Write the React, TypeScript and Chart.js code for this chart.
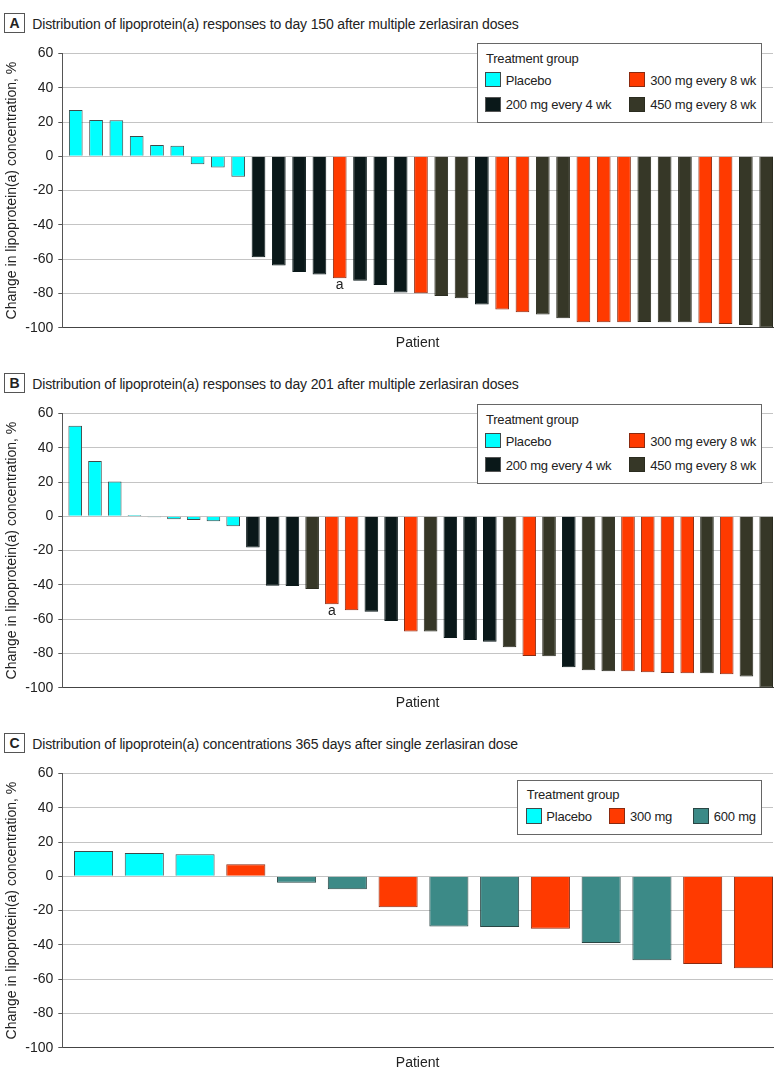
import React, { useEffect, useRef } from 'react';
import { Chart, registerables } from 'chart.js';

Chart.register(...registerables);

const FONT = '"Liberation Sans", Arial, sans-serif';

// ---------- Data ----------
// Panel A: day 150, multiple doses
const valuesA = [
  27.0, 21.1, 21.0, 11.8, 6.6, 6.2, -4.7, -6.6, -11.9,
  -58.8, -63.7, -67.4, -68.9, -71.1, -72.6, -75.1, -79.4, -79.8,
  -81.5, -82.7, -86.4, -89.3, -90.9, -92.2, -94.4, -96.7, -96.7,
  -96.7, -96.6, -96.8, -96.8, -97.4, -97.8, -98.4, -100,
];
const groupsA = [
  'P', 'P', 'P', 'P', 'P', 'P', 'P', 'P', 'P',
  'D200', 'D200', 'D200', 'D200', 'D300', 'D200', 'D200', 'D200', 'D300',
  'D450', 'D450', 'D200', 'D300', 'D300', 'D450', 'D450', 'D300', 'D300',
  'D300', 'D450', 'D450', 'D450', 'D300', 'D300', 'D450', 'D450',
];
const annotA = 13;

// Panel B: day 201, multiple doses
const valuesB = [
  52.8, 32.3, 20.3, 0.8, -0.6, -1.7, -2.1, -2.9, -5.8,
  -18.2, -40.5, -40.7, -42.4, -51.3, -54.8, -55.6, -61.0, -67.1,
  -67.1, -71.0, -72.1, -73.1, -76.4, -81.4, -81.6, -88.0, -89.7,
  -90.3, -90.3, -90.9, -91.3, -91.5, -91.5, -92.1, -93.4, -100,
];
const groupsB = [
  'P', 'P', 'P', 'P', 'P', 'P', 'P', 'P', 'P',
  'D200', 'D200', 'D200', 'D450', 'D300', 'D300', 'D200', 'D200', 'D300',
  'D450', 'D200', 'D200', 'D200', 'D450', 'D300', 'D450', 'D200', 'D450',
  'D450', 'D300', 'D300', 'D300', 'D300', 'D450', 'D300', 'D450', 'D450',
];
const annotB = 13;

// Panel C: 365 days, single dose
const valuesC = [14.7, 13.6, 12.8, 7.0, -3.7, -7.6, -18.0, -29.3, -29.6, -30.6, -38.9, -49.0, -51.1, -53.6];
const groupsC = ['P', 'P', 'P', 'S300', 'S600', 'S600', 'S300', 'S600', 'S600', 'S300', 'S600', 'S600', 'S300', 'S300'];

const yTicksMin = -100;
const yTicksMax = 60;
const yStep = 20;

const titleA = 'Distribution of lipoprotein(a) responses to day 150 after multiple zerlasiran doses';
const titleB = 'Distribution of lipoprotein(a) responses to day 201 after multiple zerlasiran doses';
const titleC = 'Distribution of lipoprotein(a) concentrations 365 days after single zerlasiran dose';
const yTitle = 'Change in lipoprotein(a) concentration, %';
const xTitle = 'Patient';
const legendTitle = 'Treatment group';

const COLORS: Record<string, { fill: string; border: string; label: string }> = {
  P: { fill: '#00FFFF', border: '#3f4a4a', label: 'Placebo' },
  D200: { fill: '#0A1819', border: '#0A1819', label: '200 mg every 4 wk' },
  D300: { fill: '#FF3A00', border: '#8a2a10', label: '300 mg every 8 wk' },
  D450: { fill: '#363727', border: '#2b2c20', label: '450 mg every 8 wk' },
  S300: { fill: '#FF3A00', border: '#8a2a10', label: '300 mg' },
  S600: { fill: '#3C8A87', border: '#2a4644', label: '600 mg' },
};

function annotPlugin(idx: number | null) {
  return {
    id: 'annot',
    afterDatasetsDraw(chart: any) {
      if (idx == null) return;
      const el = chart.getDatasetMeta(0).data[idx];
      if (!el) return;
      const ctx = chart.ctx;
      ctx.save();
      ctx.font = `14px ${FONT}`;
      ctx.fillStyle = '#222';
      ctx.textAlign = 'center';
      ctx.textBaseline = 'middle';
      ctx.fillText('a', el.x, el.y + 6.5);
      ctx.restore();
    },
  };
}

function BarPanel(props: { values: number[]; groups: string[]; barFrac: number; annot: number | null; top: number }) {
  const ref = useRef<HTMLCanvasElement>(null);
  useEffect(() => {
    const { values, groups, barFrac, annot } = props;
    const n = values.length;
    const h = barFrac / 2;
    const chart = new Chart(ref.current as HTMLCanvasElement, {
      type: 'bar',
      data: {
        datasets: [
          {
            data: values.map((v, i) => ({ x: i, y: v })),
            backgroundColor: groups.map((g) => COLORS[g].fill),
            borderColor: groups.map((g) => COLORS[g].border),
            borderWidth: 1,
            barPercentage: barFrac,
            categoryPercentage: 1,
          },
        ],
      },
      options: {
        animation: false,
        responsive: false,
        maintainAspectRatio: false,
        devicePixelRatio: 1,
        layout: { padding: { top: 12.3, right: 7, left: 0, bottom: 0 } },
        plugins: { legend: { display: false }, tooltip: { enabled: false } },
        scales: {
          x: {
            type: 'linear',
            min: -1 + h,
            max: n - 1 + h,
            offset: false,
            grid: { display: false },
            ticks: { display: false },
            border: { display: true, color: '#444', width: 1 },
            title: {
              display: true,
              text: xTitle,
              color: '#222',
              font: { family: FONT, size: 14 },
              padding: { top: 0, bottom: 0 },
            },
            afterFit: (s: any) => {
              s.height = 24.2;
            },
          },
          y: {
            min: yTicksMin,
            max: yTicksMax,
            ticks: { stepSize: yStep, color: '#222', font: { family: FONT, size: 14 }, padding: 5 },
            grid: {
              color: (c: any) => (c.tick && c.tick.value === yTicksMin ? 'rgba(0,0,0,0)' : '#c4c4c4'),
              tickColor: '#555',
              tickLength: 4,
              lineWidth: 1,
            },
            border: { display: true, color: '#555', width: 1 },
            title: {
              display: true,
              text: yTitle,
              color: '#222',
              font: { family: FONT, size: 14 },
              padding: { top: 4, bottom: 0 },
            },
            afterFit: (s: any) => {
              s.width = 62.3;
            },
          },
        },
      } as any,
      plugins: [annotPlugin(annot)],
    });
    return () => chart.destroy();
  }, []);
  return (
    <canvas
      ref={ref}
      width={780}
      height={312}
      style={{ position: 'absolute', left: 0, top: props.top, width: 780, height: 312 }}
    />
  );
}

function Txt(props: { x: number; cy: number; children: React.ReactNode; size?: number; ls?: number }) {
  return (
    <div
      style={{
        position: 'absolute',
        left: props.x,
        top: props.cy - 10,
        height: 20,
        lineHeight: '20px',
        fontSize: props.size ?? 14,
        letterSpacing: props.ls ?? 0,
        whiteSpace: 'nowrap',
        color: '#222',
      }}
    >
      {props.children}
    </div>
  );
}

function PanelTitle(props: { letter: string; top: number; text: string }) {
  return (
    <>
      <div
        style={{
          position: 'absolute',
          left: 4,
          top: props.top,
          width: 21,
          height: 20,
          boxSizing: 'border-box',
          border: '1px solid #555',
          fontWeight: 'bold',
          fontSize: 14,
          lineHeight: '18px',
          textAlign: 'center',
          color: '#222',
        }}
      >
        {props.letter}
      </div>
      <Txt x={32.3} cy={props.top + 10.4} ls={-0.15}>
        {props.text}
      </Txt>
    </>
  );
}

function Swatch(props: { x: number; y: number; w: number; h: number; g: string }) {
  return (
    <div
      style={{
        position: 'absolute',
        left: props.x,
        top: props.y,
        width: props.w,
        height: props.h,
        boxSizing: 'border-box',
        background: COLORS[props.g].fill,
        border: `1px solid ${COLORS[props.g].border === COLORS[props.g].fill ? '#555' : COLORS[props.g].border}`,
      }}
    />
  );
}

function LegendFour(props: { left: number; top: number }) {
  const { left, top } = props;
  const cells = [
    { g: 'D200', col: 0, row: 1 },
    { g: 'P', col: 0, row: 0 },
    { g: 'D300', col: 1, row: 0 },
    { g: 'D450', col: 1, row: 1 },
  ];
  return (
    <div
      style={{
        position: 'absolute',
        left,
        top,
        width: 285.6,
        height: 80,
        boxSizing: 'border-box',
        border: '1px solid #666',
        background: '#fff',
      }}
    >
      <Txt x={8.3} cy={14.7} size={13} ls={-0.2}>
        {legendTitle}
      </Txt>
      {cells.map((c) => (
        <React.Fragment key={c.g}>
          <Swatch x={7.3 + c.col * 144.3} y={28 + c.row * 24.4} w={16} h={15} g={c.g} />
          <Txt x={28 + c.col * 144.6} cy={36.5 + c.row * 24.4} size={13} ls={-0.2}>
            {COLORS[c.g].label}
          </Txt>
        </React.Fragment>
      ))}
    </div>
  );
}

function LegendThree(props: { left: number; top: number }) {
  const { left, top } = props;
  const cells = [
    { g: 'P', sx: 8, tx: 28.6 },
    { g: 'S300', sx: 91.6, tx: 112.3 },
    { g: 'S600', sx: 175.6, tx: 196 },
  ];
  return (
    <div
      style={{
        position: 'absolute',
        left,
        top,
        width: 245.6,
        height: 55,
        boxSizing: 'border-box',
        border: '1px solid #666',
        background: '#fff',
      }}
    >
      <Txt x={9} cy={13.5} size={13} ls={-0.2}>
        {legendTitle}
      </Txt>
      {cells.map((c) => (
        <React.Fragment key={c.g}>
          <Swatch x={c.sx} y={27.3} w={16} h={15.4} g={c.g} />
          <Txt x={c.tx} cy={35.5} size={13} ls={-0.2}>
            {COLORS[c.g].label}
          </Txt>
        </React.Fragment>
      ))}
    </div>
  );
}

export default function App() {
  return (
    <div
      style={{
        position: 'absolute',
        left: 0,
        top: 0,
        width: 780,
        height: 1083,
        background: '#fff',
        fontFamily: FONT,
        overflow: 'hidden',
      }}
    >
      <PanelTitle letter="A" top={13.3} text={titleA} />
      <BarPanel values={valuesA} groups={groupsA} barFrac={0.675} annot={annotA} top={40} />
      <LegendFour left={476.7} top={43.3} />

      <PanelTitle letter="B" top={373.3} text={titleB} />
      <BarPanel values={valuesB} groups={groupsB} barFrac={0.69} annot={annotB} top={400} />
      <LegendFour left={476.7} top={404} />

      <PanelTitle letter="C" top={733.3} text={titleC} />
      <BarPanel values={valuesC} groups={groupsC} barFrac={0.77} annot={null} top={760} />
      <LegendThree left={516.7} top={780} />
    </div>
  );
}
